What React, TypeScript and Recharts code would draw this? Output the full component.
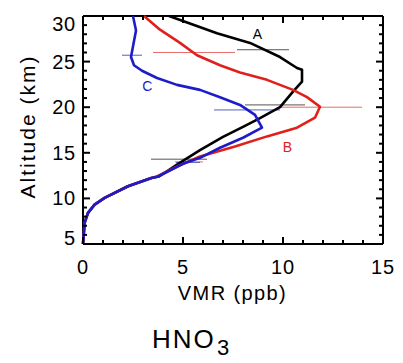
import React from 'react';
import { ScatterChart, Scatter, XAxis, YAxis, ErrorBar, Label } from 'recharts';

// ---- tick values ----
const xTicks = [0, 1, 2, 3, 4, 5, 6, 7, 8, 9, 10, 11, 12, 13, 14, 15];
const yTicks = [5, 6, 7, 8, 9, 10, 11, 12, 13, 14, 15, 16, 17, 18, 19, 20, 21, 22, 23, 24, 25, 26, 27, 28, 29, 30];
const xDomain = [0, 15];
const yDomain = [5, 30];

// ---- shared lower troposphere part (all three profiles overlap) ----
const lowerAlt = [12.24, 11.33, 10.05, 9.32, 8.41, 7.32, 5.0];
const lowerVmr = [3.42, 2.25, 1.08, 0.58, 0.25, 0.08, 0.0];

// ---- profile A (black) ----
const profileAAlt = [30.0, 28.1, 27.05, 25.5, 24.3, 24.1, 22.8, 21.7, 20.0, 18.8, 17.85, 16.75, 15.3, 13.7, 12.4];
const profileAVmr = [4.3, 6.7, 8.35, 9.85, 10.7, 10.95, 10.95, 10.5, 9.85, 8.85, 8.0, 7.0, 5.85, 4.7, 3.8];

// ---- profile B (red) ----
const profileBAlt = [30.0, 28.5, 27.05, 25.7, 24.6, 23.8, 23.0, 21.9, 21.1, 20.05, 18.85, 17.75, 16.8, 15.7, 14.6, 13.5, 12.4];
const profileBVmr = [3.05, 3.85, 4.85, 5.7, 6.85, 7.85, 9.2, 10.5, 11.2, 11.85, 11.6, 10.7, 9.2, 7.6, 5.85, 4.7, 3.7];

// ---- profile C (blue) ----
const profileCAlt = [30.0, 28.4, 25.5, 24.6, 24.0, 23.2, 22.45, 21.9, 21.1, 20.25, 19.15, 17.75, 16.65, 15.55, 14.45, 13.8, 12.4];
const profileCVmr = [2.5, 2.65, 2.4, 2.55, 2.95, 3.7, 4.7, 5.85, 6.85, 7.85, 8.6, 8.95, 8.0, 6.85, 5.85, 5.0, 3.75];

// ---- horizontal error bars ----
const errAAlt = [26.3, 20.25, 14.3];
const errAVmr = [9.0, 9.6, 4.8];
const errAHalf = [1.3, 1.5, 1.4];

const errBAlt = [26.0, 20.0, 14.0];
const errBVmr = [5.55, 11.9, 5.3];
const errBHalf = [2.05, 2.05, 0.7];

const errCAlt = [25.7, 19.7, 13.95];
const errCVmr = [2.45, 8.2, 5.25];
const errCHalf = [0.5, 1.65, 0.6];

// ---- curve name labels ----
const labelNames = ['A', 'B', 'C'];
const labelVmr = [8.72, 10.22, 3.22];
const labelAlt = [27.98, 15.67, 22.34];

const COLORS: Record<string, string> = { A: '#000000', B: '#e0201c', C: '#1c1cc8' };
const ERR_COLORS: Record<string, string> = { A: '#555555', B: '#e86a6a', C: '#5560c0' };
const FONT = '"Liberation Sans", Arial, Helvetica, sans-serif';

const toPoints = (alts: number[], vmrs: number[]) => alts.map((alt, i) => ({ alt, vmr: vmrs[i] }));
const toErr = (alts: number[], vmrs: number[], half: number[]) =>
  alts.map((alt, i) => ({ alt, vmr: vmrs[i], err: half[i] }));

const dataA = toPoints([...profileAAlt, ...lowerAlt], [...profileAVmr, ...lowerVmr]);
const dataB = toPoints([...profileBAlt, ...lowerAlt], [...profileBVmr, ...lowerVmr]);
const dataC = toPoints([...profileCAlt, ...lowerAlt], [...profileCVmr, ...lowerVmr]);
const errA = toErr(errAAlt, errAVmr, errAHalf);
const errB = toErr(errBAlt, errBVmr, errBHalf);
const errC = toErr(errCAlt, errCVmr, errCHalf);
const labelData = labelNames.map((name, i) => ({ name, vmr: labelVmr[i], alt: labelAlt[i] }));

const isMajor = (v: number) => v % 5 === 0;
const TICK_W = 2;

const BottomTick = (p: any) => {
  const { x, y, payload } = p;
  const major = isMajor(payload.value);
  return (
    <g>
      <line x1={x} x2={x} y1={y} y2={y - (major ? 7 : 4)} stroke="#000" strokeWidth={TICK_W} />
      {major && (
        <text x={x} y={y + 30} textAnchor="middle" fontSize={20} fontFamily={FONT} letterSpacing={0.8} fill="#000">
          {payload.value}
        </text>
      )}
    </g>
  );
};

const TopTick = (p: any) => {
  const { x, y, payload } = p;
  const major = isMajor(payload.value);
  return (
    <g>
      <line x1={x} x2={x} y1={y} y2={y + (major ? 7 : 4)} stroke="#000" strokeWidth={TICK_W} />
    </g>
  );
};

const LeftTick = (p: any) => {
  const { x, y, payload } = p;
  const v = payload.value;
  const major = isMajor(v);
  let base = y + 7;
  if (v === 30) base = y + 15;
  if (v === 5) base = y + 1;
  return (
    <g>
      <line x1={x} x2={x + (major ? 7 : 4)} y1={y} y2={y} stroke="#000" strokeWidth={TICK_W} />
      {major && (
        <text x={x - 7} y={base} textAnchor="end" fontSize={20} fontFamily={FONT} letterSpacing={0.8} fill="#000">
          {v}
        </text>
      )}
    </g>
  );
};

const RightTick = (p: any) => {
  const { x, y, payload } = p;
  const major = isMajor(payload.value);
  return (
    <g>
      <line x1={x} x2={x - (major ? 7 : 4)} y1={y} y2={y} stroke="#000" strokeWidth={TICK_W} />
    </g>
  );
};

const hidden = () => <g />;

const NameShape = (p: any) => {
  const { cx, cy, payload } = p;
  return (
    <text x={cx} y={cy + 5} textAnchor="middle" fontSize={14} fontFamily={FONT} fill={COLORS[payload.name]}>
      {payload.name}
    </text>
  );
};

const axisLine = { stroke: '#000', strokeWidth: 2 };

export default function App() {
  return (
    <div style={{ position: 'absolute', left: 0, top: 0, width: 403, height: 363, background: '#fff' }}>
      <ScatterChart width={403} height={363} margin={{ top: 15, right: 19, bottom: 89, left: 23 }}>
        <XAxis
          type="number"
          dataKey="vmr"
          domain={xDomain}
          ticks={xTicks}
          interval={0}
          height={30}
          tickSize={0}
          tickMargin={0}
          tickLine={false}
          axisLine={axisLine}
          tick={(p: any) => <BottomTick {...p} />}
        >
          <Label
            content={(lp: any) => {
              const vb = lp.viewBox;
              return (
                <text
                  x={vb.x + vb.width / 2 - 0.5}
                  y={vb.y + 56}
                  textAnchor="middle"
                  fontSize={20}
                  fontFamily={FONT}
                  letterSpacing={1.4}
                  fill="#000"
                >
                  VMR (ppb)
                </text>
              );
            }}
          />
        </XAxis>
        <XAxis
          xAxisId="top"
          orientation="top"
          type="number"
          dataKey="vmr"
          domain={xDomain}
          ticks={xTicks}
          interval={0}
          height={1}
          tickSize={0}
          tickMargin={0}
          tickLine={false}
          axisLine={axisLine}
          tick={(p: any) => <TopTick {...p} />}
        />
        <YAxis
          type="number"
          dataKey="alt"
          domain={yDomain}
          ticks={yTicks}
          interval={0}
          width={60}
          tickSize={0}
          tickMargin={0}
          tickLine={false}
          axisLine={axisLine}
          tick={(p: any) => <LeftTick {...p} />}
        >
          <Label
            content={(lp: any) => {
              const vb = lp.viewBox;
              const cx = vb.x + 12;
              const cy = vb.y + vb.height / 2 - 3.5;
              return (
                <text
                  x={cx}
                  y={cy}
                  transform={`rotate(-90 ${cx} ${cy})`}
                  textAnchor="middle"
                  fontSize={21}
                  fontFamily={FONT}
                  letterSpacing={2}
                  fill="#000"
                >
                  Altitude (km)
                </text>
              );
            }}
          />
        </YAxis>
        <YAxis
          yAxisId="right"
          orientation="right"
          type="number"
          dataKey="alt"
          domain={yDomain}
          ticks={yTicks}
          interval={0}
          width={1}
          tickSize={0}
          tickMargin={0}
          tickLine={false}
          axisLine={axisLine}
          tick={(p: any) => <RightTick {...p} />}
        />

        <Scatter data={errA} shape={hidden} isAnimationActive={false}>
          <ErrorBar dataKey="err" direction="x" width={0} stroke={ERR_COLORS.A} strokeWidth={1} isAnimationActive={false} />
        </Scatter>
        <Scatter data={errB} shape={hidden} isAnimationActive={false}>
          <ErrorBar dataKey="err" direction="x" width={0} stroke={ERR_COLORS.B} strokeWidth={1} isAnimationActive={false} />
        </Scatter>
        <Scatter data={errC} shape={hidden} isAnimationActive={false}>
          <ErrorBar dataKey="err" direction="x" width={0} stroke={ERR_COLORS.C} strokeWidth={1} isAnimationActive={false} />
        </Scatter>

        <Scatter
          data={dataA}
          shape={hidden}
          line={{ stroke: COLORS.A, strokeWidth: 2.6, strokeLinejoin: 'round' }}
          isAnimationActive={false}
        />
        <Scatter
          data={dataB}
          shape={hidden}
          line={{ stroke: COLORS.B, strokeWidth: 2.6, strokeLinejoin: 'round' }}
          isAnimationActive={false}
        />
        <Scatter
          data={dataC}
          shape={hidden}
          line={{ stroke: COLORS.C, strokeWidth: 2.6, strokeLinejoin: 'round' }}
          isAnimationActive={false}
        />
        <Scatter data={labelData} shape={(p: any) => <NameShape {...p} />} isAnimationActive={false} />
        {/* invisible series so the mirrored top/right axes get a domain and draw their ticks */}
        <Scatter data={labelData} xAxisId="top" yAxisId="right" shape={hidden} isAnimationActive={false} />
      </ScatterChart>
      <svg width={403} height={363} style={{ position: 'absolute', left: 0, top: 0, pointerEvents: 'none' }}>
        <text x={152} y={348} fontSize={26} fontFamily={FONT} letterSpacing={2} fill="#000">
          HNO
        </text>
        <text x={217} y={355} fontSize={22} fontFamily={FONT} fill="#000">
          3
        </text>
      </svg>
    </div>
  );
}
